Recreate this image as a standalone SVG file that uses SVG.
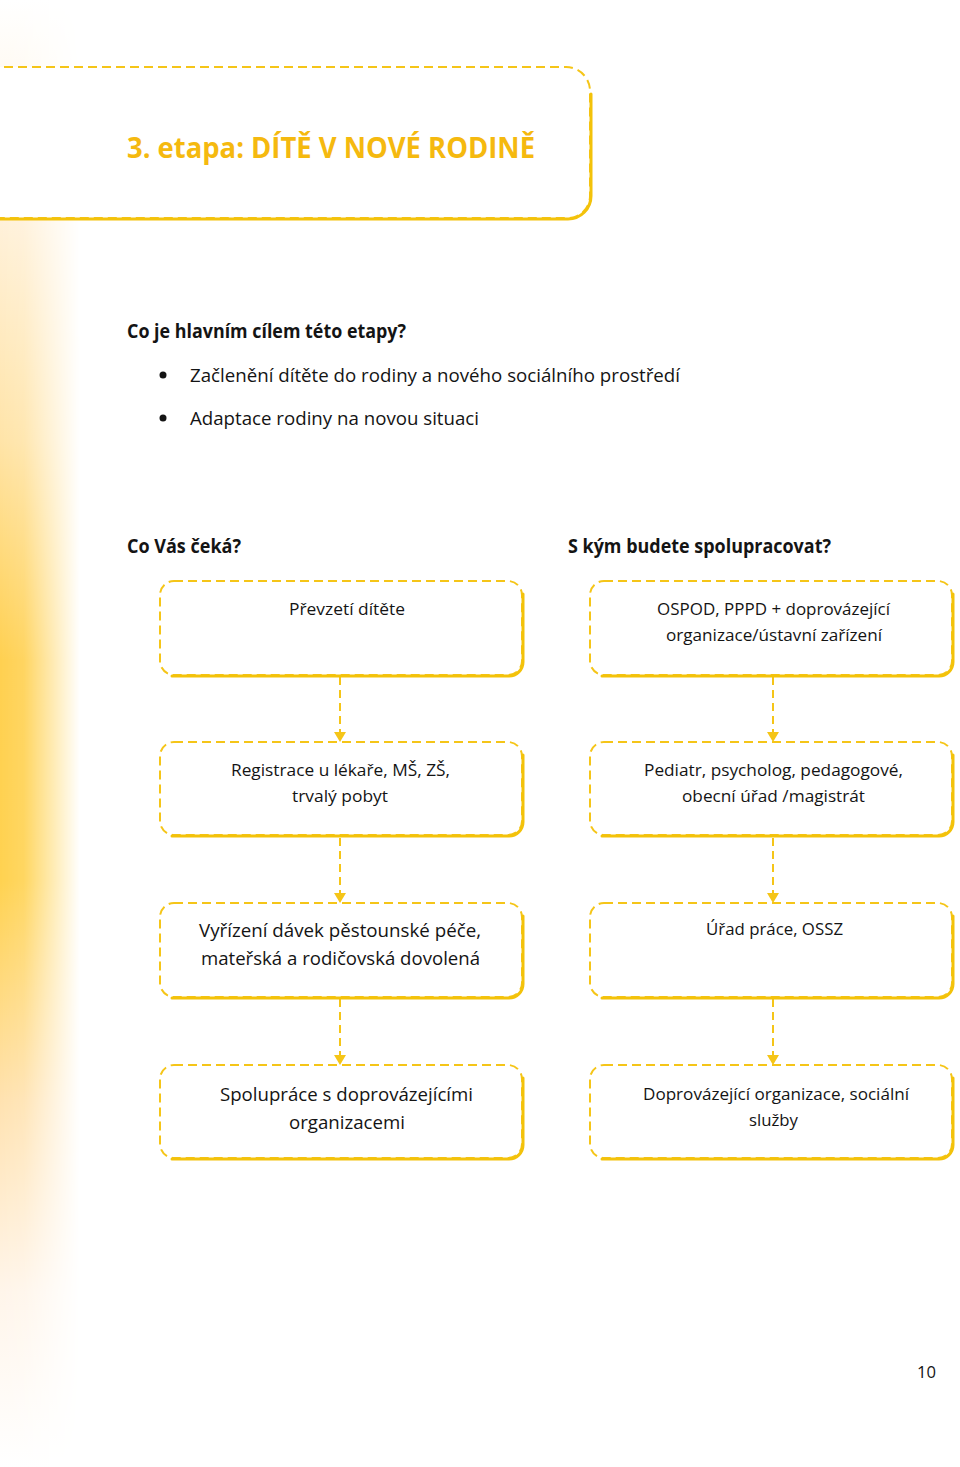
<svg xmlns="http://www.w3.org/2000/svg" width="960" height="1467" viewBox="0 0 960 1467">
<defs>
<style>
.t{font-family:"Open Sans","Liberation Sans",sans-serif;fill:#141414;}
.b{font-weight:bold;font-size:19px;}
.n{font-size:17px;}
.m{font-size:19px;}
.box{fill:#fff;stroke:#F5C518;stroke-width:2;stroke-dasharray:9 5;}
.sh{fill:none;stroke:#F3C20A;stroke-width:3;stroke-linecap:round;}
.con{stroke:#F5C518;stroke-width:2;stroke-dasharray:8 5;fill:none;}
.ah{fill:#F5C518;}
</style>
<linearGradient id="vg" x1="0" y1="0" x2="0" y2="1">
<stop offset="0" stop-color="#FFFFFF"/>
<stop offset="0.15" stop-color="#FFF1DA"/>
<stop offset="0.3" stop-color="#FFE4A8"/>
<stop offset="0.45" stop-color="#FFD050"/>
<stop offset="0.6" stop-color="#FFD250"/>
<stop offset="0.75" stop-color="#FFE2B0"/>
<stop offset="0.88" stop-color="#FFF5EA"/>
<stop offset="1" stop-color="#FFFFFF"/>
</linearGradient>
<linearGradient id="hg" x1="0" y1="0" x2="1" y2="0">
<stop offset="0" stop-color="#fff" stop-opacity="1"/>
<stop offset="0.3" stop-color="#fff" stop-opacity="0.9"/>
<stop offset="1" stop-color="#fff" stop-opacity="0"/>
</linearGradient>
<mask id="hm"><rect x="0" y="0" width="80" height="1467" fill="url(#hg)"/></mask>
</defs>
<rect width="960" height="1467" fill="#fff"/>
<rect x="0" y="0" width="80" height="1467" fill="url(#vg)" mask="url(#hm)"/>

<g id="title">
<path d="M-10,67 H566 A24,24 0 0 1 590,91 V196 A22,22 0 0 1 568,218 H-10 Z" class="box"/>
<path d="M591,94 V196 A23,23 0 0 1 568,219 H-10" class="sh" stroke-width="2.5"/>
<text x="127" y="158" font-family="Open Sans, Liberation Sans, sans-serif" font-weight="bold" font-size="28" fill="#F5B90F" textLength="408" lengthAdjust="spacingAndGlyphs">3. etapa: DÍTĚ V NOVÉ RODINĚ</text>
</g>

<g id="intro">
<text class="t b" x="127" y="338" textLength="279" lengthAdjust="spacingAndGlyphs">Co je hlavním cílem této etapy?</text>
<circle cx="163" cy="375" r="3.5" fill="#141414"/>
<text class="t m" x="190" y="382" textLength="490" lengthAdjust="spacingAndGlyphs">Začlenění dítěte do rodiny a nového sociálního prostředí</text>
<circle cx="163" cy="418" r="3.5" fill="#141414"/>
<text class="t m" x="190" y="425" textLength="289" lengthAdjust="spacingAndGlyphs">Adaptace rodiny na novou situaci</text>
<text class="t b" x="127" y="553" textLength="114" lengthAdjust="spacingAndGlyphs">Co Vás čeká?</text>
<text class="t b" x="568" y="553" textLength="263" lengthAdjust="spacingAndGlyphs">S kým budete spolupracovat?</text>
</g>

<g id="connectors">
<line class="con" x1="340" y1="677" x2="340" y2="733"/>
<polygon class="ah" points="334,732 346,732 340,742"/>
<line class="con" x1="340" y1="838" x2="340" y2="894"/>
<polygon class="ah" points="334,893 346,893 340,903"/>
<line class="con" x1="340" y1="999" x2="340" y2="1056"/>
<polygon class="ah" points="334,1055 346,1055 340,1065"/>
<line class="con" x1="773" y1="677" x2="773" y2="733"/>
<polygon class="ah" points="767,732 779,732 773,742"/>
<line class="con" x1="773" y1="838" x2="773" y2="894"/>
<polygon class="ah" points="767,893 779,893 773,903"/>
<line class="con" x1="773" y1="999" x2="773" y2="1056"/>
<polygon class="ah" points="767,1055 779,1055 773,1065"/>
</g>

<g id="n1">
<rect class="box" x="160" y="581" width="362" height="94" rx="14"/>
<path class="sh" d="M523,594 V662 A14,14 0 0 1 509,676 H172"/>
<text class="t n" x="347" y="615" text-anchor="middle" textLength="116" lengthAdjust="spacingAndGlyphs">Převzetí dítěte</text>
</g>
<g id="n2">
<rect class="box" x="590" y="581" width="362" height="94" rx="14"/>
<path class="sh" d="M953,594 V662 A14,14 0 0 1 939,676 H602"/>
<text class="t n" x="773.5" y="615" text-anchor="middle" textLength="233" lengthAdjust="spacingAndGlyphs">OSPOD, PPPD + doprovázející</text>
<text class="t n" x="774" y="641" text-anchor="middle" textLength="216" lengthAdjust="spacingAndGlyphs">organizace/ústavní zařízení</text>
</g>
<g id="n3">
<rect class="box" x="160" y="742" width="362" height="93" rx="14"/>
<path class="sh" d="M523,755 V822 A14,14 0 0 1 509,836 H172"/>
<text class="t n" x="340.5" y="776" text-anchor="middle" textLength="219" lengthAdjust="spacingAndGlyphs">Registrace u lékaře, MŠ, ZŠ,</text>
<text class="t n" x="340" y="802" text-anchor="middle" textLength="96" lengthAdjust="spacingAndGlyphs">trvalý pobyt</text>
</g>
<g id="n4">
<rect class="box" x="590" y="742" width="362" height="93" rx="14"/>
<path class="sh" d="M953,755 V822 A14,14 0 0 1 939,836 H602"/>
<text class="t n" x="773.5" y="776" text-anchor="middle" textLength="259" lengthAdjust="spacingAndGlyphs">Pediatr, psycholog, pedagogové,</text>
<text class="t n" x="773.5" y="802" text-anchor="middle" textLength="183" lengthAdjust="spacingAndGlyphs">obecní úřad /magistrát</text>
</g>
<g id="n5">
<rect class="box" x="160" y="903" width="362" height="94" rx="14"/>
<path class="sh" d="M523,916 V984 A14,14 0 0 1 509,998 H172"/>
<text class="t m" x="340" y="937" text-anchor="middle" textLength="282" lengthAdjust="spacingAndGlyphs">Vyřízení dávek pěstounské péče,</text>
<text class="t m" x="340.5" y="965" text-anchor="middle" textLength="279" lengthAdjust="spacingAndGlyphs">mateřská a rodičovská dovolená</text>
</g>
<g id="n6">
<rect class="box" x="590" y="903" width="362" height="94" rx="14"/>
<path class="sh" d="M953,916 V984 A14,14 0 0 1 939,998 H602"/>
<text class="t n" x="774.5" y="935" text-anchor="middle" textLength="137" lengthAdjust="spacingAndGlyphs">Úřad práce, OSSZ</text>
</g>
<g id="n7">
<rect class="box" x="160" y="1065" width="362" height="93" rx="14"/>
<path class="sh" d="M523,1078 V1145 A14,14 0 0 1 509,1159 H172"/>
<text class="t m" x="346.5" y="1101" text-anchor="middle" textLength="253" lengthAdjust="spacingAndGlyphs">Spolupráce s doprovázejícími</text>
<text class="t m" x="347" y="1129" text-anchor="middle" textLength="116" lengthAdjust="spacingAndGlyphs">organizacemi</text>
</g>
<g id="n8">
<rect class="box" x="590" y="1065" width="362" height="93" rx="14"/>
<path class="sh" d="M953,1078 V1145 A14,14 0 0 1 939,1159 H602"/>
<text class="t n" x="776" y="1100" text-anchor="middle" textLength="266" lengthAdjust="spacingAndGlyphs">Doprovázející organizace, sociální</text>
<text class="t n" x="773.5" y="1126" text-anchor="middle" textLength="49" lengthAdjust="spacingAndGlyphs">služby</text>
</g>

<text class="t n" x="917" y="1378" textLength="19" lengthAdjust="spacingAndGlyphs">10</text>
</svg>
